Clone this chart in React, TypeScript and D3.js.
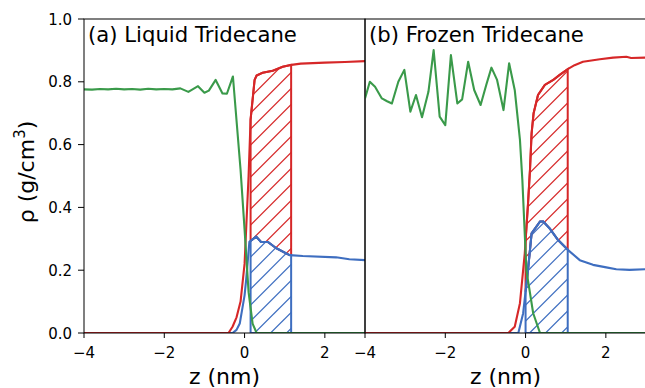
import React from 'react';
import * as d3 from 'd3';

type Pt = [number, number];

// (a) liquid tridecane profiles, [z (nm), rho (g/cm3)]
const liquidGreen: Pt[] = [
  [-4, 0.776], [-3.8, 0.775], [-3.6, 0.777], [-3.4, 0.776], [-3.2, 0.778], [-3.0, 0.776],
  [-2.8, 0.777], [-2.6, 0.775], [-2.4, 0.778], [-2.2, 0.776], [-2.0, 0.777], [-1.8, 0.776],
  [-1.6, 0.779], [-1.4, 0.768], [-1.16, 0.786], [-1.0, 0.765], [-0.89, 0.772], [-0.72, 0.806],
  [-0.55, 0.763], [-0.44, 0.762], [-0.29, 0.817], [-0.1, 0.52], [0, 0.33], [0.1, 0.13],
  [0.2, 0.03], [0.3, 0], [3, 0],
];
const liquidRed: Pt[] = [
  [-4, 0], [-0.4, 0], [-0.3, 0.02], [-0.2, 0.05], [-0.1, 0.1], [0, 0.22], [0.1, 0.5],
  [0.15, 0.68], [0.25, 0.806], [0.3, 0.82], [0.45, 0.829], [0.7, 0.835], [0.95, 0.848],
  [1.12, 0.853], [1.4, 0.858], [2, 0.861], [2.5, 0.863], [3, 0.866],
];
const liquidBlue: Pt[] = [
  [-4, 0], [-0.3, 0], [-0.2, 0.01], [-0.12, 0.03], [0, 0.12], [0.04, 0.17], [0.12, 0.29],
  [0.29, 0.307], [0.41, 0.29], [0.58, 0.29], [0.79, 0.27], [1.12, 0.248], [1.45, 0.245],
  [2.28, 0.241], [2.61, 0.235], [3, 0.232],
];
const liquidRange: Pt = [0.15, 1.16];

// (b) frozen tridecane profiles
const frozenGreen: Pt[] = [
  [-4, 0.747], [-3.88, 0.8], [-3.75, 0.784], [-3.58, 0.747], [-3.45, 0.738], [-3.33, 0.731],
  [-3.17, 0.8], [-3.02, 0.838], [-2.87, 0.705], [-2.73, 0.758], [-2.58, 0.687], [-2.42, 0.768],
  [-2.29, 0.901], [-2.14, 0.689], [-2.0, 0.662], [-1.86, 0.885], [-1.7, 0.731], [-1.58, 0.744],
  [-1.43, 0.864], [-1.28, 0.774], [-1.12, 0.726], [-0.98, 0.79], [-0.85, 0.845], [-0.71, 0.806],
  [-0.55, 0.71], [-0.41, 0.859], [-0.27, 0.774], [-0.14, 0.615], [-0.08, 0.487], [0.02, 0.2],
  [0.19, 0.063], [0.36, 0], [3, 0],
];
const frozenRed: Pt[] = [
  [-4, 0], [-0.43, 0], [-0.27, 0.02], [-0.14, 0.095], [-0.02, 0.254], [0.06, 0.41], [0.11, 0.52],
  [0.15, 0.636], [0.2, 0.7], [0.31, 0.758], [0.48, 0.79], [0.69, 0.806], [0.85, 0.822],
  [1.06, 0.841], [1.22, 0.853], [1.43, 0.864], [1.85, 0.872], [2.18, 0.877], [2.51, 0.88],
  [2.63, 0.876], [3, 0.877],
];
const frozenBlue: Pt[] = [
  [-4, 0], [-0.18, 0], [-0.06, 0.063], [0.06, 0.2], [0.15, 0.317], [0.36, 0.355], [0.44, 0.355],
  [0.6, 0.333], [0.81, 0.296], [1.06, 0.264], [1.35, 0.232], [1.68, 0.217], [2.01, 0.209],
  [2.26, 0.203], [2.59, 0.201], [3, 0.203],
];
const frozenRange: Pt = [0, 1.05];

const titles = ['(a) Liquid Tridecane', '(b) Frozen Tridecane'];
const xTicks = [-4, -2, 0, 2];
const yTicks = [0, 0.2, 0.4, 0.6, 0.8, 1.0];

const RED = '#d62728';
const GREEN = '#3a9a4a';
const BLUE = '#3e6ec0';
const FONT = 'DejaVu Sans, sans-serif';

const W = 645;
const H = 388;
const top = 19;
const bottom = 333;
const panels = [
  { x0: 84, x1: 365 },
  { x0: 365, x1: 646 },
];

const y = d3.scaleLinear().domain([0, 1]).range([bottom, top]);

function interp(s: Pt[], z: number) {
  for (let i = 1; i < s.length; i++) {
    if (z <= s[i][0]) {
      const [za, va] = s[i - 1];
      const [zb, vb] = s[i];
      return va + ((vb - va) * (z - za)) / (zb - za);
    }
  }
  return s[s.length - 1][1];
}

function slice(s: Pt[], a: number, b: number): Pt[] {
  const inner = s.filter((d) => d[0] > a && d[0] < b);
  return [[a, interp(s, a)], ...inner, [b, interp(s, b)]];
}

const fmt = (v: number) => (v < 0 ? '\u2212' + Math.abs(v) : String(v));

// diagonal "/" hatch lines covering a box, clipped by caller
function Hatch({ clip, x0, x1, color }: { clip: string; x0: number; x1: number; color: string }) {
  const gap = 16;
  const offs = d3.range(x0 - (bottom - top) - gap, x1 + gap, gap);
  return (
    <g clipPath={`url(#${clip})`}>
      {offs.map((o) => (
        <line key={o} x1={o} y1={bottom} x2={o + (bottom - top)} y2={top} stroke={color} strokeWidth={1.2} />
      ))}
    </g>
  );
}

function Panel({ idx, green, red, blue, range }: { idx: number; green: Pt[]; red: Pt[]; blue: Pt[]; range: Pt }) {
  const { x0, x1 } = panels[idx];
  const x = d3.scaleLinear().domain([-4, 3]).range([x0, x1]);
  const line = d3.line<Pt>().x((d) => x(d[0])).y((d) => y(d[1]));
  const redTop = slice(red, range[0], range[1]);
  const blueTop = slice(blue, range[0], range[1]);
  const redPoly = [...redTop, ...blueTop.slice().reverse()];
  const bluePoly: Pt[] = [...blueTop, [range[1], 0], [range[0], 0]];
  const clipId = `clip${idx}`;
  const redClip = `redfill${idx}`;
  const blueClip = `bluefill${idx}`;
  const hx0 = x(range[0]) - 2;
  const hx1 = x(range[1]) + 2;
  return (
    <g>
      <defs>
        <clipPath id={clipId}>
          <rect x={x0} y={top} width={x1 - x0} height={bottom - top} />
        </clipPath>
        <clipPath id={redClip}>
          <path d={line(redPoly) + 'Z'} />
        </clipPath>
        <clipPath id={blueClip}>
          <path d={line(bluePoly) + 'Z'} />
        </clipPath>
      </defs>
      <g clipPath={`url(#${clipId})`}>
        <Hatch clip={redClip} x0={hx0} x1={hx1} color={RED} />
        <Hatch clip={blueClip} x0={hx0} x1={hx1} color={BLUE} />
        <path d={line(redPoly) + 'Z'} fill="none" stroke={RED} strokeWidth={2} />
        <path d={line(bluePoly) + 'Z'} fill="none" stroke={BLUE} strokeWidth={2} />
        <path d={line(blue) ?? ''} fill="none" stroke={BLUE} strokeWidth={2.1} strokeLinejoin="round" />
        <path d={line(red) ?? ''} fill="none" stroke={RED} strokeWidth={2.1} strokeLinejoin="round" />
        <path d={line(green) ?? ''} fill="none" stroke={GREEN} strokeWidth={2.1} strokeLinejoin="round" />
      </g>
      <rect x={x0} y={top} width={x1 - x0} height={bottom - top} fill="none" stroke="#000" strokeWidth={1} />
      {xTicks.map((t) => (
        <g key={t}>
          <line x1={x(t)} x2={x(t)} y1={bottom} y2={bottom + 5} stroke="#000" strokeWidth={1} />
          <text x={x(t)} y={358} textAnchor="middle" fontSize={15} fontFamily={FONT}>
            {fmt(t)}
          </text>
        </g>
      ))}
      <text x={x0 + 4} y={42} fontSize={21.2} fontFamily={FONT}>
        {titles[idx]}
      </text>
      <text x={(x0 + x1) / 2} y={384} textAnchor="middle" fontSize={22} fontFamily={FONT}>
        z (nm)
      </text>
    </g>
  );
}

export default function App() {
  return (
    <svg width={W} height={H} style={{ position: 'absolute', left: 0, top: 0, background: '#fff' }}>
      <rect width={W} height={H} fill="#fff" />
      <Panel idx={0} green={liquidGreen} red={liquidRed} blue={liquidBlue} range={liquidRange} />
      <Panel idx={1} green={frozenGreen} red={frozenRed} blue={frozenBlue} range={frozenRange} />
      {yTicks.map((t) => (
        <g key={t}>
          <line x1={78} x2={84} y1={y(t)} y2={y(t)} stroke="#000" strokeWidth={1} />
          <text x={72} y={y(t) + 5.5} textAnchor="end" fontSize={15} fontFamily={FONT}>
            {t.toFixed(1)}
          </text>
        </g>
      ))}
      <text transform={`translate(34,172) rotate(-90)`} textAnchor="middle" fontSize={22} fontFamily={FONT}>
        ρ (g/cm<tspan dy={-9} fontSize={15}>3</tspan><tspan dy={9}>)</tspan>
      </text>
    </svg>
  );
}
